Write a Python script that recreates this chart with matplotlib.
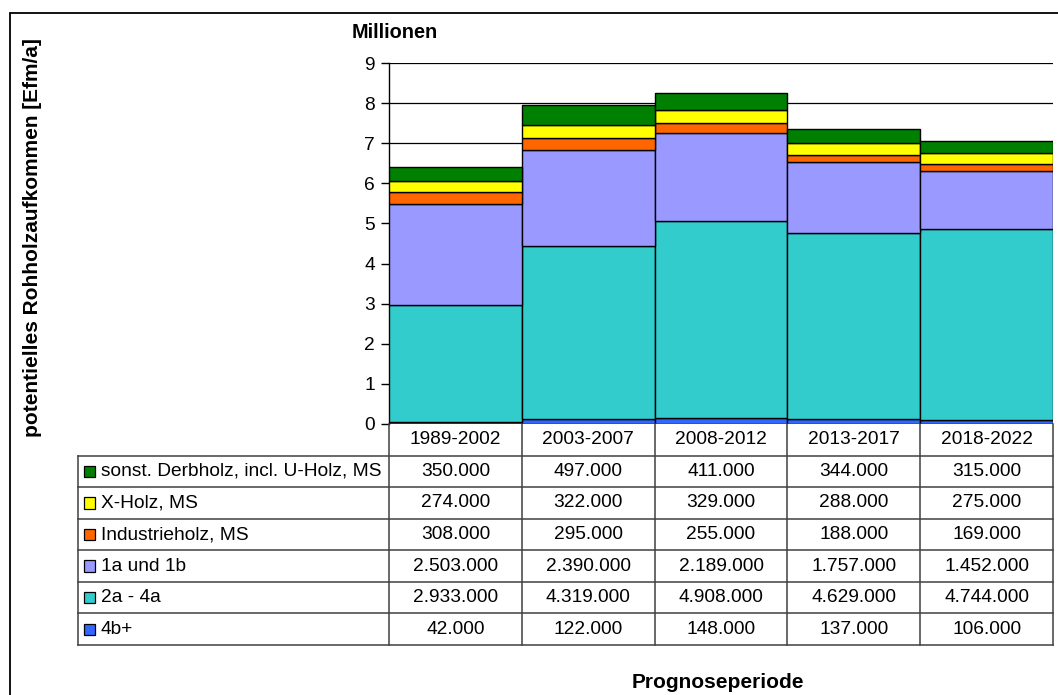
import matplotlib
matplotlib.use("Agg")
import matplotlib.pyplot as plt
from matplotlib.patches import Rectangle
import numpy as np

plt.rcParams['font.family'] = ['Liberation Sans', 'DejaVu Sans']

periods = ["1989-2002", "2003-2007", "2008-2012", "2013-2017", "2018-2022"]
# bottom to top of the stack
series = ["4b+", "2a - 4a", "1a und 1b", "Industrieholz, MS", "X-Holz, MS",
          "sonst. Derbholz, incl. U-Holz, MS"]
v_4b = [42000, 122000, 148000, 137000, 106000]
v_2a4a = [2933000, 4319000, 4908000, 4629000, 4744000]
v_1a1b = [2503000, 2390000, 2189000, 1757000, 1452000]
v_ind = [308000, 295000, 255000, 188000, 169000]
v_x = [274000, 322000, 329000, 288000, 275000]
v_sonst = [350000, 497000, 411000, 344000, 315000]
values = [v_4b, v_2a4a, v_1a1b, v_ind, v_x, v_sonst]
colors = ["#3366FF", "#33CCCC", "#9999FF", "#FF6600", "#FFFF00", "#008000"]

W, H = 1058, 695
fs = 13.8
fig = plt.figure(figsize=(W / 100, H / 100), dpi=100)

# main plot area
L, R, T, B = 389, 1053, 63, 424
ax = fig.add_axes([L / W, 1 - B / H, (R - L) / W, (B - T) / H])
x = np.arange(len(periods))
bottom = np.zeros(len(periods))
for vals, c in zip(values, colors):
    v = np.array(vals) / 1e6
    ax.bar(x, v, width=1.0, bottom=bottom, color=c, edgecolor="black", linewidth=1.0, zorder=3)
    bottom += v
ax.set_xlim(-0.5, len(periods) - 0.5)
ax.set_ylim(0, 9)
ax.set_yticks(range(0, 10))
ax.yaxis.grid(True, color="black", linewidth=0.9, zorder=0)
ax.set_xticks([])
for s in ["top", "right", "bottom"]:
    ax.spines[s].set_visible(False)
ax.spines["left"].set_linewidth(1.0)
ax.tick_params(axis="y", labelsize=fs, length=6, width=1.0, pad=4)

# data table below the plot
TB = 645
nrows = len(series)
lab_w = (L - 78) / ((R - L) / len(periods))
tab = fig.add_axes([78 / W, 1 - TB / H, (R - 78) / W, (TB - B) / H])
tab.set_xlim(-0.5 - lab_w, len(periods) - 0.5)
tab.set_ylim(nrows + 1, 0)
tab.axis("off")
lc = "#404040"
xl = -0.5 - lab_w
for i in range(len(periods) + 1):
    tab.plot([i - 0.5, i - 0.5], [0, nrows + 1], color=lc, lw=1.1, clip_on=False)
for j in range(1, nrows + 2):
    tab.plot([xl, len(periods) - 0.5], [j, j], color=lc, lw=1.1, clip_on=False)
tab.plot([xl, xl], [1, nrows + 1], color=lc, lw=1.1, clip_on=False)
for i, p in enumerate(periods):
    tab.text(i, 0.5, p, ha="center", va="center", fontsize=fs)
for r in range(nrows):
    k = nrows - 1 - r
    yc = r + 1.5
    tab.add_patch(Rectangle((xl + 0.045, yc - 0.18), 0.082, 0.36, facecolor=colors[k],
                            edgecolor="black", lw=0.9, transform=tab.transData))
    tab.text(xl + 0.17, yc, series[k], ha="left", va="center", fontsize=fs)
    for i in range(len(periods)):
        tab.text(i, yc, f"{values[k][i]:,}".replace(",", "."), ha="center", va="center", fontsize=fs)

# titles
fig.text(395 / W, 1 - 32 / H, "Millionen", fontsize=14.3, fontweight="bold", ha="center", va="center")
fig.text(33 / W, 1 - 238 / H, "potentielles Rohholzaufkommen [Efm/a]", fontsize=15,
         fontweight="bold", rotation=90, ha="center", va="center")
fig.text(718 / W, 1 - 683 / H, "Prognoseperiode", fontsize=15, fontweight="bold", ha="center", va="center")

# outer chart frame (cut off at the right and bottom)
fig.add_artist(Rectangle((10 / W, -0.2), 1.2, 1.2 - 13 / H, fill=False, edgecolor="black",
                         lw=1.3, transform=fig.transFigure))

fig.savefig("out.png", dpi=100)
